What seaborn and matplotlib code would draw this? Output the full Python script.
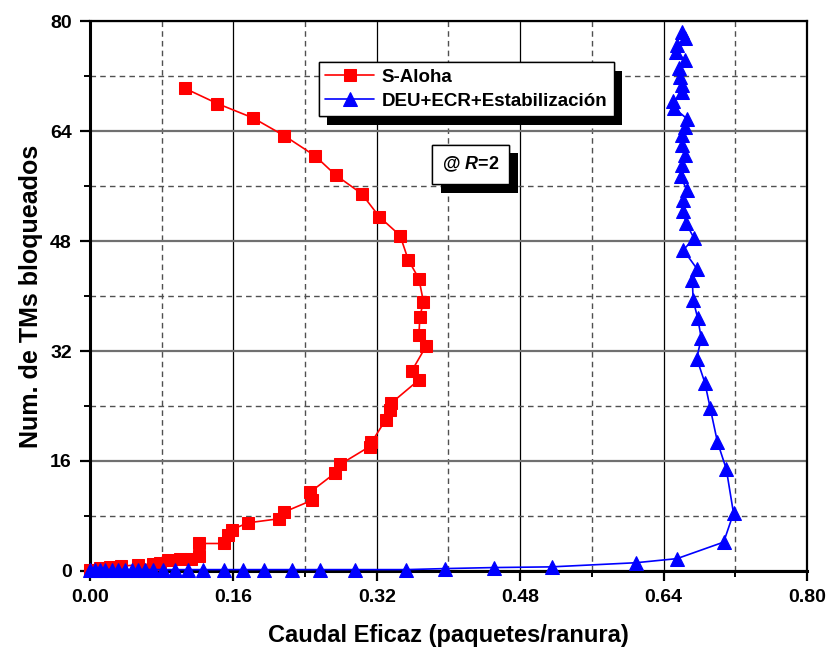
import matplotlib
matplotlib.use("Agg")
import matplotlib.pyplot as plt
import matplotlib.patheffects as pe
from matplotlib.ticker import MultipleLocator
import seaborn as sns
import pandas as pd

# ---------------- data ----------------
aloha_x = [0.000, 0.011, 0.022, 0.035, 0.054, 0.070, 0.078, 0.087, 0.101, 0.113,
           0.122, 0.122, 0.149, 0.154, 0.158, 0.176, 0.211, 0.217, 0.248, 0.246,
           0.273, 0.279, 0.312, 0.314, 0.330, 0.335, 0.336, 0.367, 0.359, 0.375,
           0.367, 0.368, 0.372, 0.367, 0.355, 0.346, 0.323, 0.303, 0.274, 0.251,
           0.217, 0.182, 0.142, 0.106]
aloha_y = [0.15, 0.4, 0.6, 0.7, 0.9, 1.0, 1.2, 1.6, 1.8, 1.7,
           2.2, 4.0, 4.0, 5.2, 6.0, 7.0, 7.6, 8.6, 10.3, 11.5,
           14.2, 15.5, 18.1, 18.7, 22.0, 23.4, 24.4, 27.8, 29.1, 32.7,
           34.3, 36.9, 39.2, 42.5, 45.3, 48.8, 51.5, 54.9, 57.6, 60.4,
           63.3, 65.9, 68.0, 70.2]

deu_x = [0.000, 0.006, 0.011, 0.017, 0.025, 0.031, 0.039, 0.047, 0.054, 0.061,
         0.070, 0.082, 0.095, 0.109, 0.126, 0.149, 0.171, 0.194, 0.225, 0.257,
         0.296, 0.353, 0.396, 0.451, 0.515, 0.609, 0.655,
         0.707, 0.718, 0.710, 0.700, 0.692, 0.686, 0.677, 0.682, 0.678, 0.673,
         0.672, 0.677, 0.662, 0.674, 0.665, 0.662, 0.662, 0.666, 0.659, 0.660,
         0.664, 0.661, 0.660, 0.664, 0.666, 0.652, 0.651, 0.661, 0.660, 0.658,
         0.657, 0.664, 0.654, 0.655, 0.664, 0.661]
deu_y = [0.2, 0.2, 0.2, 0.2, 0.2, 0.2, 0.2, 0.2, 0.2, 0.2,
         0.2, 0.2, 0.2, 0.2, 0.2, 0.2, 0.2, 0.2, 0.2, 0.2,
         0.2, 0.2, 0.35, 0.5, 0.6, 1.2, 1.8,
         4.2, 8.4, 14.8, 18.8, 23.7, 27.4, 30.9, 33.9, 36.8, 39.4,
         42.4, 44.0, 46.7, 48.4, 50.6, 52.3, 54.0, 55.4, 57.4, 59.1,
         60.5, 61.9, 63.4, 64.6, 65.8, 67.3, 68.3, 69.7, 70.7, 71.9,
         73.1, 74.3, 75.5, 76.5, 77.5, 78.4]

series_names = ["S-Aloha", "DEU+ECR+Estabilización"]
x_ticks = [0.00, 0.16, 0.32, 0.48, 0.64, 0.80]
y_ticks = [0, 16, 32, 48, 64, 80]
x_label = "Caudal Eficaz (paquetes/ranura)"
y_label = "Num. de TMs bloqueados"
note = r"@ $R$=2"

df_a = pd.DataFrame({"x": aloha_x, "y": aloha_y})
df_d = pd.DataFrame({"x": deu_x, "y": deu_y})

# ---------------- style ----------------
sns.set_style("white")
plt.rcParams["font.family"] = ["Liberation Sans", "DejaVu Sans"]
plt.rcParams["font.weight"] = "bold"
plt.rcParams["text.color"] = "black"
plt.rcParams["axes.labelcolor"] = "black"
plt.rcParams["mathtext.fontset"] = "custom"
plt.rcParams["mathtext.it"] = "Liberation Sans:italic:bold"
plt.rcParams["mathtext.rm"] = "Liberation Sans:bold"

fig = plt.figure(figsize=(8.3, 6.49), dpi=100)
ax = fig.add_axes([0.1084, 0.1202, 0.8639, 0.8474])

sns.lineplot(data=df_a, x="x", y="y", sort=False, estimator=None, ax=ax,
             color="#ff0000", lw=1.2, marker="s", markersize=9.3,
             markeredgecolor="#ff0000", markerfacecolor="#ff0000",
             label=series_names[0], clip_on=False, zorder=4)
sns.lineplot(data=df_d, x="x", y="y", sort=False, estimator=None, ax=ax,
             color="#0000ff", lw=1.2, marker="^", markersize=10.5,
             markeredgecolor="#0000ff", markerfacecolor="#0000ff",
             label=series_names[1], clip_on=False, zorder=4)

ax.set_xlim(0, 0.80)
ax.set_ylim(0, 80)
ax.set_xticks(x_ticks)
ax.set_xticklabels([f"{v:.2f}" for v in x_ticks])
ax.set_yticks(y_ticks)
ax.set_yticklabels([str(v) for v in y_ticks])
ax.xaxis.set_minor_locator(MultipleLocator(0.08))
ax.yaxis.set_minor_locator(MultipleLocator(8))

ax.tick_params(which="major", direction="out", length=7, width=1.6,
               labelsize=14, pad=6, colors="black")
ax.tick_params(which="minor", direction="out", length=4.5, width=1.4, colors="black")
ax.tick_params(axis="x", which="both", bottom=True)
ax.tick_params(axis="y", which="both", left=True)
for lab in ax.get_xticklabels() + ax.get_yticklabels():
    lab.set_fontweight("bold")

ax.xaxis.grid(True, which="major", color="black", lw=0.9, ls="-")
ax.yaxis.grid(True, which="major", color="#707070", lw=1.6, ls="-")
ax.grid(True, which="minor", color="#505050", lw=1.0, ls=(0, (4, 3)))
ax.set_axisbelow(True)

for s in ["left", "bottom"]:
    ax.spines[s].set_linewidth(2.2)
for s in ["top", "right"]:
    ax.spines[s].set_linewidth(1.6)
for s in ax.spines.values():
    s.set_color("black")
    s.set_visible(True)

ax.set_xlabel(x_label, fontsize=17, fontweight="bold", labelpad=13, color="black")
ax.set_ylabel(y_label, fontsize=18, fontweight="bold", labelpad=5, color="black")

leg = ax.legend(loc="upper left", bbox_to_anchor=(0.319, 0.925),
                fontsize=13.5, frameon=True, fancybox=False, shadow=False,
                handlelength=2.6, borderpad=0.35, labelspacing=0.35,
                handletextpad=0.4, borderaxespad=0)
frame = leg.get_frame()
frame.set_edgecolor("black")
frame.set_linewidth(1.0)
frame.set_facecolor("white")
frame.set_alpha(1)
frame.set_path_effects([pe.withSimplePatchShadow(offset=(6, -6), shadow_rgbFace="black", alpha=1.0),
                        pe.Normal()])
for t in leg.get_texts():
    t.set_fontweight("bold")
    t.set_color("black")
leg.set_zorder(10)

txt = ax.text(0.425, 59.1, note, fontsize=13, fontweight="bold", ha="center", va="center",
              color="black",
              bbox=dict(boxstyle="square,pad=0.55", fc="white", ec="black", lw=1.0), zorder=10)
txt.get_bbox_patch().set_path_effects([pe.withSimplePatchShadow(offset=(6, -6), shadow_rgbFace="black", alpha=1.0),
                                       pe.Normal()])

fig.savefig("out.png", dpi=100)
